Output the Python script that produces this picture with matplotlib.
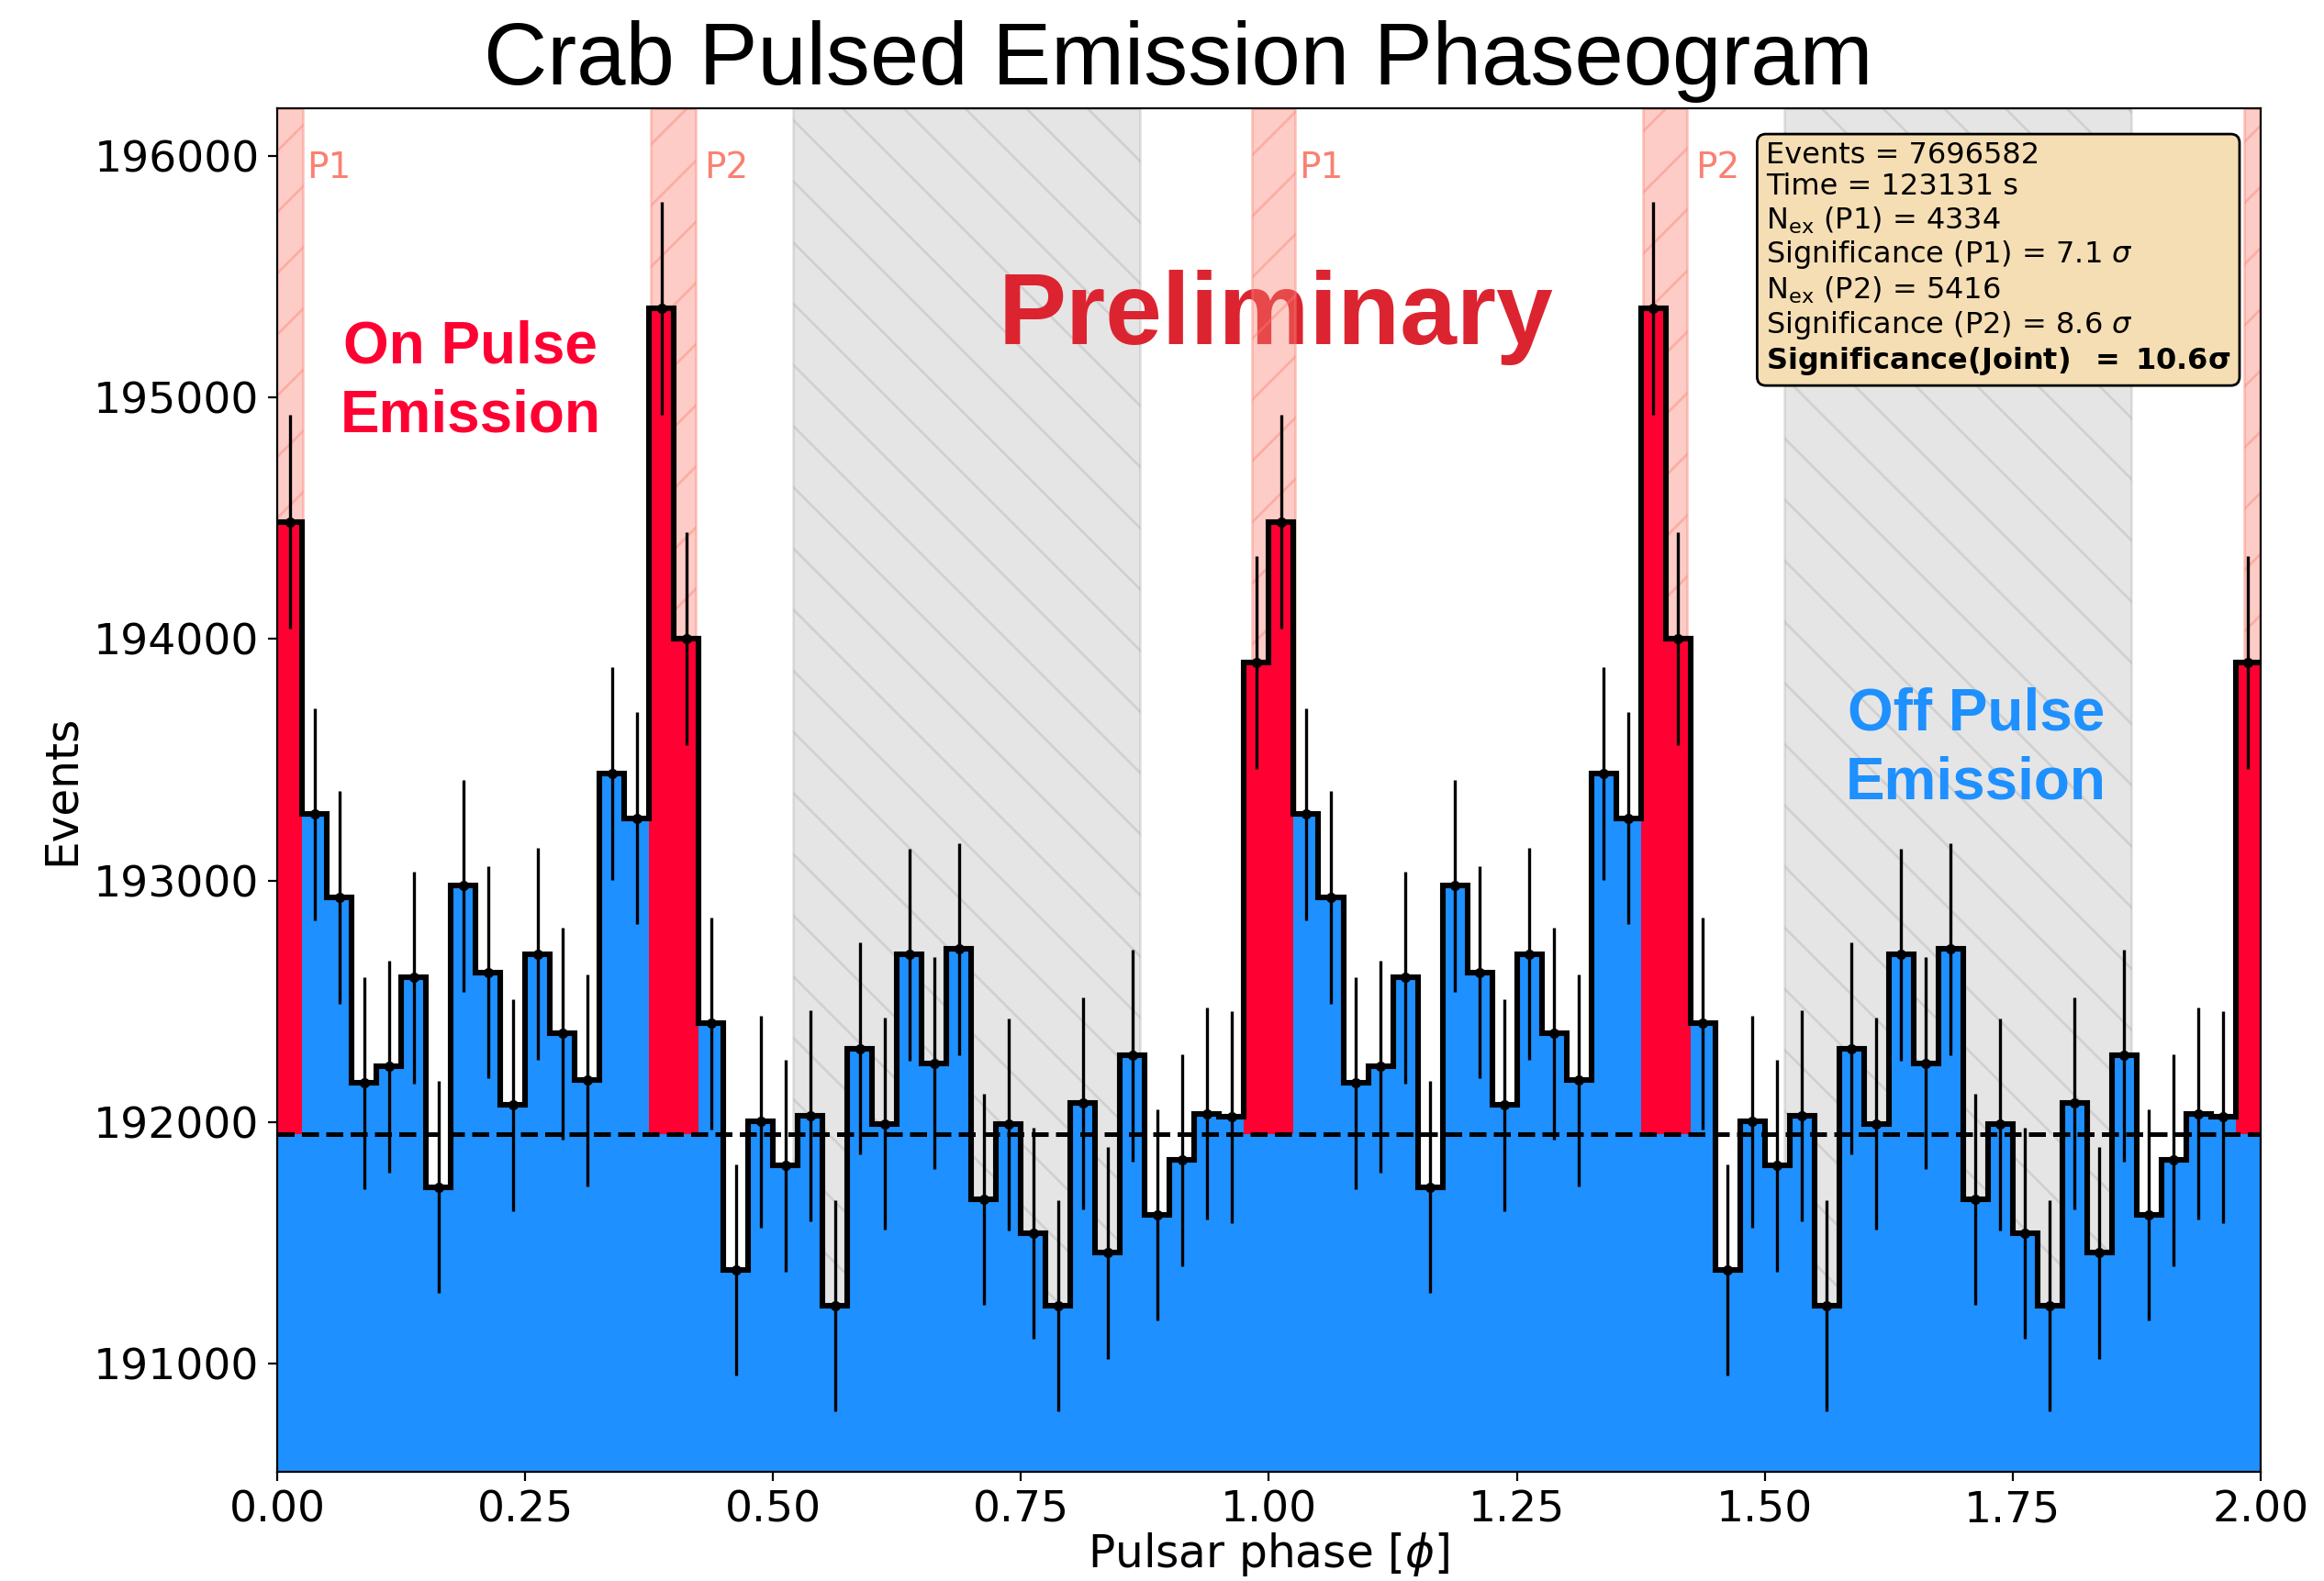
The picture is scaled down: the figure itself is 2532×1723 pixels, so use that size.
import numpy as np
import matplotlib
matplotlib.use("Agg")
import matplotlib.pyplot as plt

# Crab phaseogram, 40 phase bins per cycle
counts = [194485, 193274, 192930, 192162, 192231, 192599, 191731, 192978, 192620, 192071,
          192696, 192368, 192174, 193443, 193258, 195368, 194001, 192409, 191389, 192003,
          191820, 192026, 191240, 192305, 191993, 192694, 192244, 192716, 191680, 191991,
          191541, 191240, 192079, 191459, 192276, 191617, 191843, 192035, 192022, 193902]
n_cycles = 2
background = 191950

# phase windows
p1_range = (-0.017, 0.026)
p2_range = (0.377, 0.422)
off_range = (0.52, 0.87)

stats_lines = [
    "Events = 7696582",
    "Time = 123131 s",
    r"N$_{\rm ex}$ (P1) = 4334",
    r"Significance (P1) = 7.1 $\sigma$",
    r"N$_{\rm ex}$ (P2) = 5416",
    r"Significance (P2) = 8.6 $\sigma$",
    r"$\bf{Significance(Joint)\ \ =\ 10.6\sigma}$",
]

blue = "#1E90FF"
red = "#FF0033"
helv = ["Liberation Sans", "DejaVu Sans"]

# two cycles of the same phaseogram
n_bins = len(counts)
y = np.tile(np.array(counts, dtype=float), n_cycles)
edges = np.linspace(0, n_cycles, n_bins * n_cycles + 1)
width = edges[1] - edges[0]
centers = edges[:-1] + width / 2
yerr = np.sqrt(y)

ph = centers % 1.0
on = ((ph >= 1 + p1_range[0]) | (ph <= p1_range[1])) | ((ph >= p2_range[0]) & (ph <= p2_range[1]))

fig = plt.figure(figsize=(12.66, 8.615), dpi=200)
ax = fig.add_axes([0.1193, 0.0691, 0.8534, 0.8624])

# shaded phase regions
for k in range(n_cycles):
    ax.axvspan(k + off_range[0], k + off_range[1], color="gray", alpha=0.2,
               hatch="\\", zorder=0.1)
for k in range(n_cycles + 1):
    ax.axvspan(k + p1_range[0], k + p1_range[1], color="salmon", alpha=0.4,
               hatch="/", zorder=0.5)
for k in range(n_cycles):
    ax.axvspan(k + p2_range[0], k + p2_range[1], color="salmon", alpha=0.4,
               hatch="/", zorder=0.5)

# histogram
ax.stairs(y, edges, fill=True, baseline=0, color=blue, zorder=1)
ax.bar(centers[on], y[on] - background, bottom=background, width=width,
       color=red, edgecolor="none", zorder=2)
ax.stairs(y, edges, baseline=None, color="black", lw=2.2, zorder=3)
ax.axhline(background, color="black", ls="--", lw=1.8, zorder=4)
ax.errorbar(centers, y, yerr=yerr, fmt=".", color="black", ms=6,
            elinewidth=1.2, zorder=5)

# labels on the plot
for k in range(n_cycles):
    ax.text(k + 0.03, 195950, "P1", color="salmon", fontsize=14, va="center")
    ax.text(k + 0.43, 195950, "P2", color="salmon", fontsize=14, va="center")

ax.text(1.007, 195220, "Preliminary", color="#DC2430", fontsize=40,
        fontweight="bold", family=helv, ha="center", va="baseline", zorder=0.3)
ax.text(0.195, 195065, "On Pulse\nEmission", color=red, fontsize=23,
        fontweight="bold", family=helv, ha="center", va="center",
        linespacing=1.33, zorder=6)
ax.text(1.713, 193545, "Off Pulse\nEmission", color=blue, fontsize=23,
        fontweight="bold", family=helv, ha="center", va="center",
        linespacing=1.33, zorder=6)

ax.text(0.7506, 0.976, "\n".join(stats_lines), transform=ax.transAxes,
        fontsize=11.5, va="top", ha="left", linespacing=1.15, zorder=10,
        bbox=dict(boxstyle="round,pad=0.3", facecolor="wheat", edgecolor="black"))

ax.set_xlim(0, n_cycles)
ax.set_ylim(190553, 196196)
ax.ticklabel_format(axis="y", useOffset=False, style="plain")
ax.tick_params(labelsize=17)
ax.set_xlabel(r"Pulsar phase [$\phi$]", fontsize=17.5, labelpad=0)
ax.set_ylabel("Events", fontsize=17.5)

fig.text(0.507, 0.9466, "Crab Pulsed Emission Phaseogram", fontsize=34.5,
         family=helv, ha="center", va="baseline")

fig.savefig("out.png", dpi=200)
